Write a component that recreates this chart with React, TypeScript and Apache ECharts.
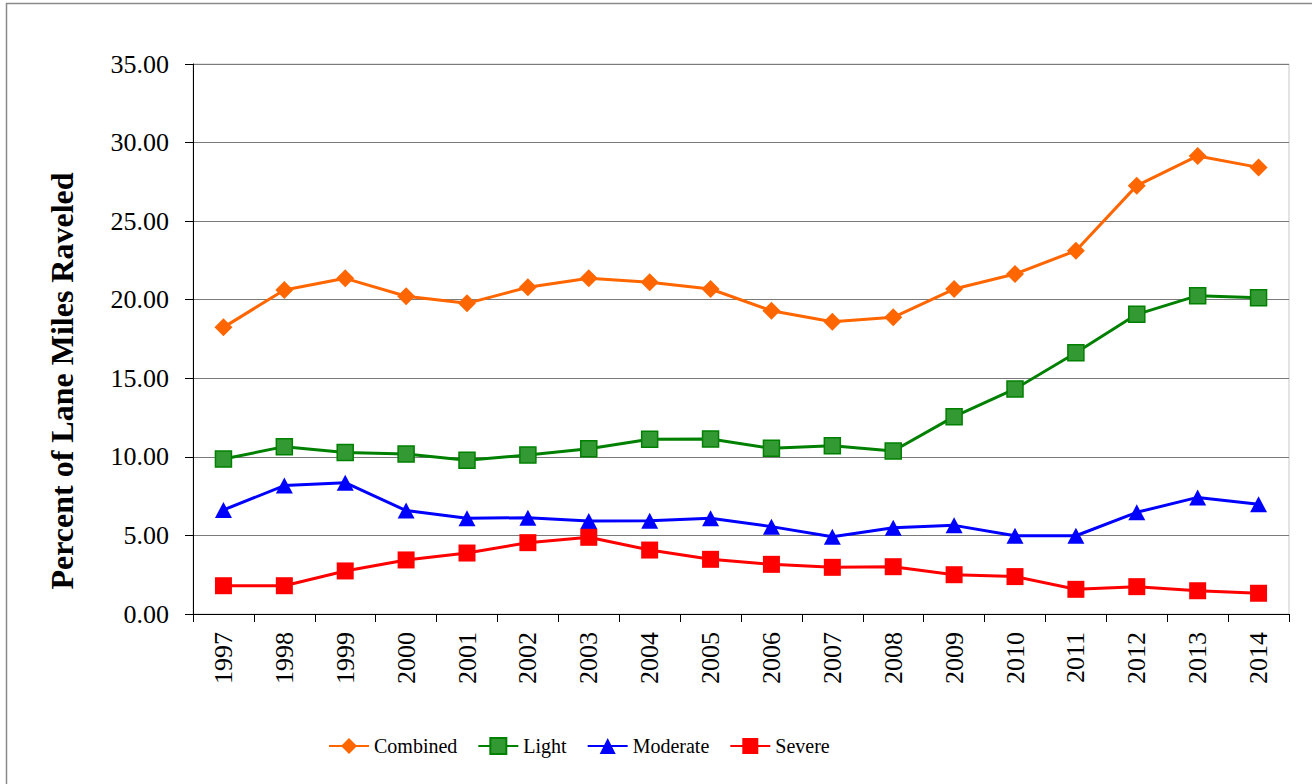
import React, { useEffect, useRef } from "react";
import * as echarts from "echarts";

const years = ["1997","1998","1999","2000","2001","2002","2003","2004","2005","2006","2007","2008","2009","2010","2011","2012","2013","2014"];
const combined = [18.24,20.62,21.36,20.22,19.77,20.79,21.36,21.11,20.68,19.30,18.60,18.88,20.68,21.64,23.12,27.26,29.15,28.42];
const light = [9.86,10.65,10.27,10.18,9.78,10.12,10.52,11.12,11.14,10.54,10.71,10.37,12.56,14.32,16.63,19.07,20.26,20.13];
const moderate = [6.62,8.17,8.36,6.58,6.09,6.13,5.92,5.94,6.09,5.56,4.92,5.49,5.64,4.98,4.98,6.47,7.42,6.98];
const severe = [1.80,1.80,2.74,3.44,3.88,4.54,4.88,4.07,3.48,3.16,2.97,3.01,2.50,2.38,1.57,1.74,1.48,1.32];
const yTicks = { min: 0, max: 35, interval: 5 };
const yTitle = "Percent of Lane Miles Raveled";

const FONT = "Liberation Serif";

export default function App() {
  const ref = useRef<HTMLDivElement>(null);
  useEffect(() => {
    if (!ref.current) return;
    const chart = echarts.init(ref.current, undefined, { renderer: "svg" });
    const mk = (name: string, data: number[], color: string, symbol: string, size: any, fill?: string) => ({
      name,
      type: "line",
      data,
      symbol,
      symbolSize: size,
      showAllSymbol: true,
      lineStyle: { color, width: 3 },
      itemStyle: { color: fill || color, borderColor: color, borderWidth: fill ? 1.5 : 0 },
      emphasis: { disabled: true },
    });
    chart.setOption({
      animation: false,
      textStyle: { fontFamily: FONT },
      grid: { left: 193, top: 64, right: 23, bottom: 170, show: true, borderColor: "#c8c8c8", borderWidth: 1 },
      legend: {
        left: 328,
        top: 736,
        padding: 0,
        itemWidth: 40,
        itemHeight: 20,
        itemGap: 20,
        textStyle: { fontFamily: FONT, fontSize: 20, color: "#000" },
        data: ["Combined", "Light", "Moderate", "Severe"],
      },
      xAxis: {
        type: "category",
        data: years,
        boundaryGap: true,
        axisLine: { show: true, lineStyle: { color: "#000", width: 1 } },
        axisTick: { show: true, length: 8, lineStyle: { color: "#000" } },
        axisLabel: { rotate: 90, margin: 18, fontSize: 26, color: "#000", fontFamily: FONT, interval: 0 },
        splitLine: { show: false },
      },
      yAxis: {
        type: "value",
        min: yTicks.min,
        max: yTicks.max,
        interval: yTicks.interval,
        axisLine: { show: true, lineStyle: { color: "#000", width: 1 } },
        axisTick: { show: true, length: 8, lineStyle: { color: "#000" } },
        axisLabel: { margin: 24, fontSize: 26, color: "#000", fontFamily: FONT, formatter: (v: number) => v.toFixed(2) },
        splitLine: { show: true, lineStyle: { color: "#7a7a7a", width: 1.2 } },
      },
      graphic: [
        {
          type: "rect",
          silent: true,
          shape: { x: 6.5, y: 3.5, width: 1400, height: 900 },
          style: { fill: "none", stroke: "#8a8a8a", lineWidth: 1.5 },
        },
        {
          type: "text",
          x: 62,
          y: 381,
          rotation: Math.PI / 2,
          style: {
            text: yTitle,
            fontFamily: FONT,
            fontWeight: "bold",
            fontSize: 32,
            fill: "#000",
            textAlign: "center",
            textVerticalAlign: "middle",
          },
        },
      ],
      series: [
        mk("Combined", combined, "#ff6600", "diamond", [18, 18]),
        mk("Light", light, "#008000", "rect", [16, 16], "#339933"),
        mk("Moderate", moderate, "#0000ff", "triangle", [17, 16]),
        mk("Severe", severe, "#ff0000", "rect", [17, 17]),
      ],
    });
    return () => chart.dispose();
  }, []);
  return <div ref={ref} style={{ position: "absolute", left: 0, top: 0, width: 1312, height: 784 }} />;
}
